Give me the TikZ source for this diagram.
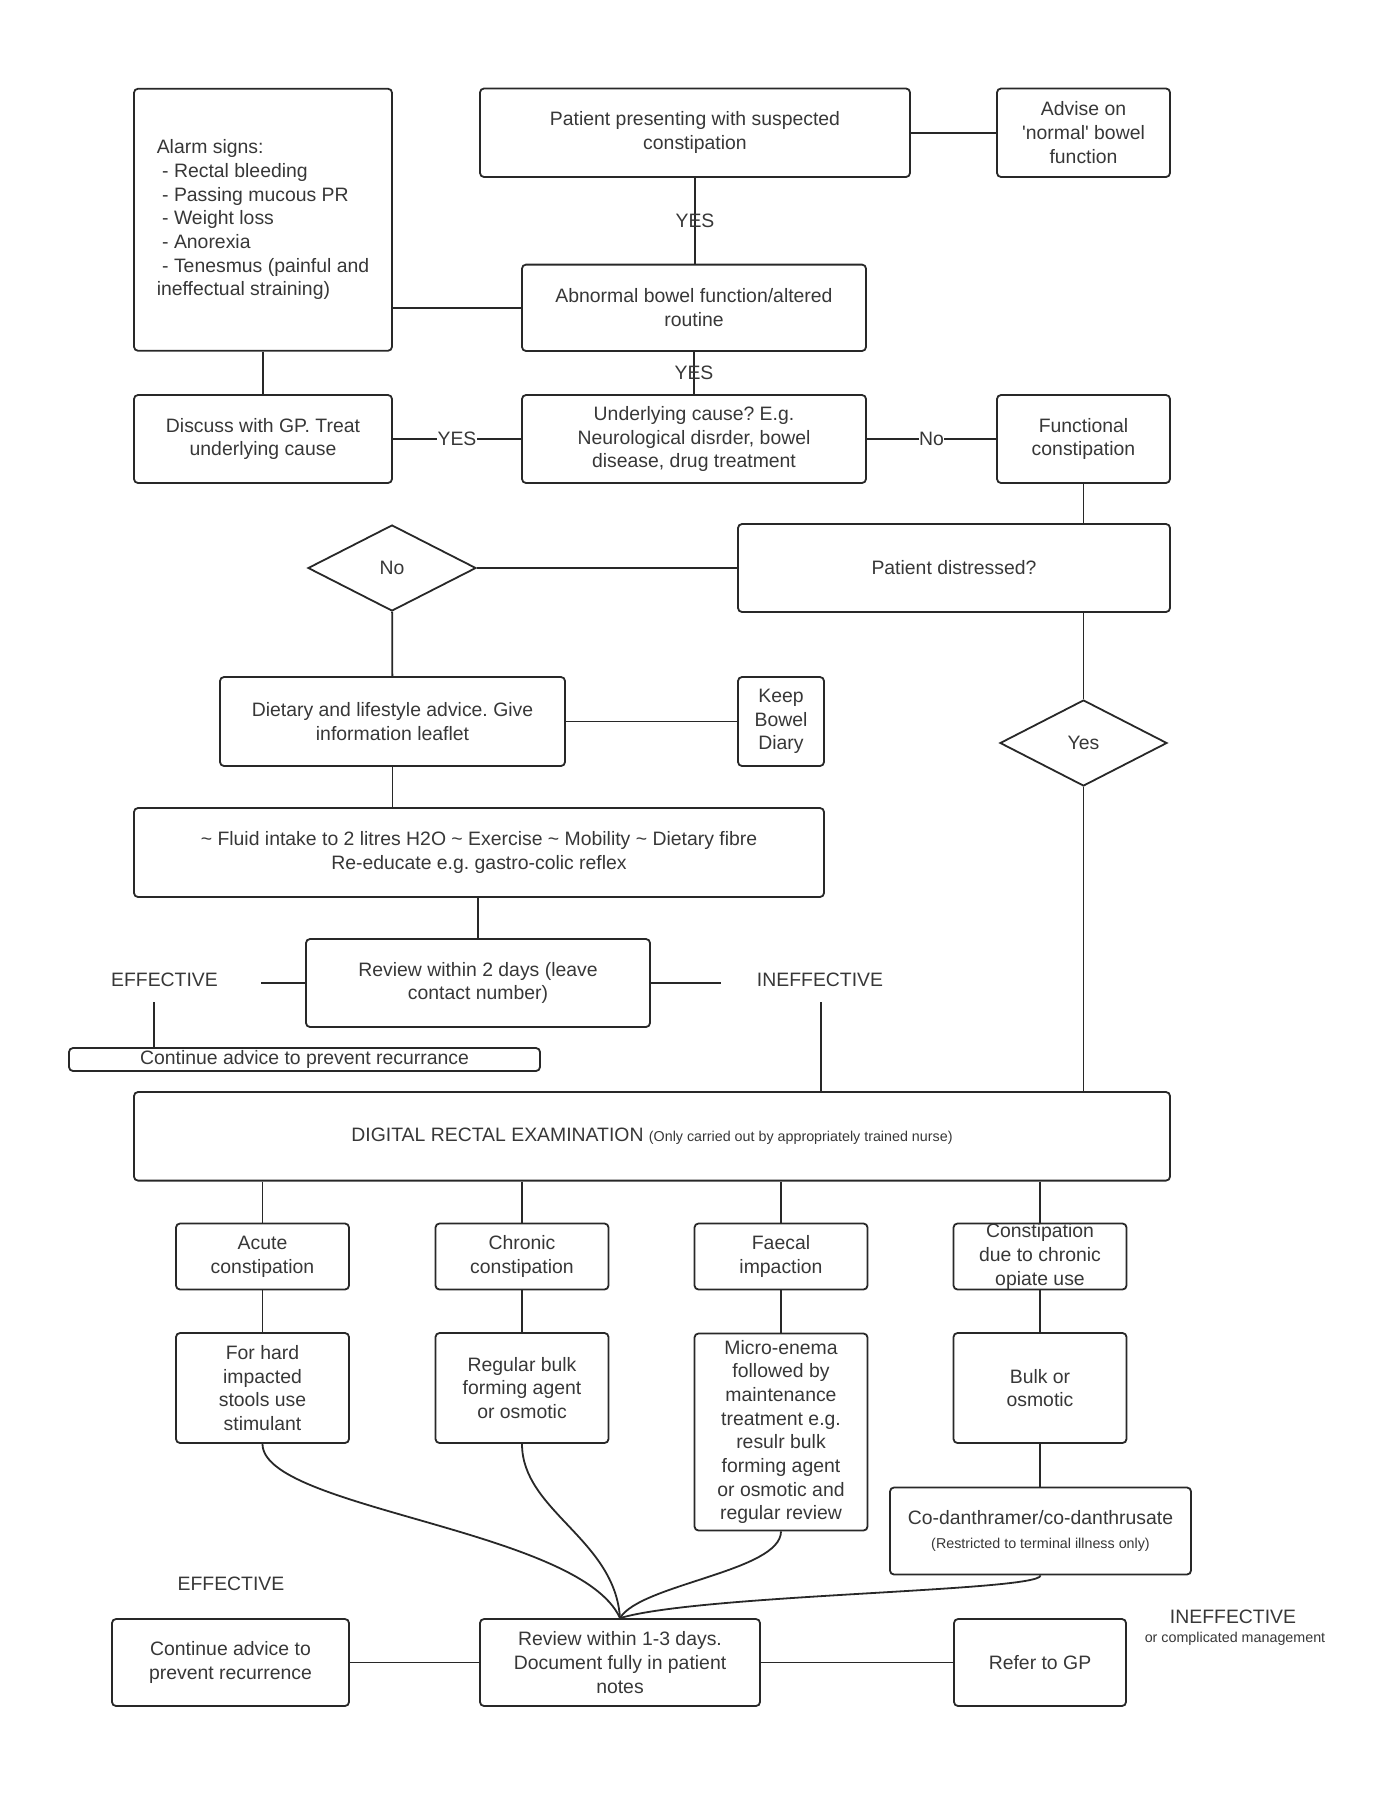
\documentclass[tikz,border=0pt]{standalone}
\usepackage{fontspec}
\setmainfont{Liberation Sans}
\usetikzlibrary{shapes.geometric}
\definecolor{inkgray}{RGB}{40,40,40}
\definecolor{txtgray}{RGB}{55,55,55}
\newcommand{\normsize}{\fontsize{19.4}{23.7}\selectfont}
\newcommand{\notesize}{\fontsize{14.3}{17}\selectfont}
\frenchspacing

\begin{document}
\begin{tikzpicture}[x=1pt, y=-1pt,
    box/.style={draw=inkgray, line width=1.8pt, rounded corners=4pt, align=center, inner sep=0pt, text=txtgray, font=\normsize},
    decision/.style={draw=inkgray, diamond, line width=1.8pt, inner sep=0pt, text=txtgray, font=\normsize},
    wire/.style={draw=inkgray, line width=1.8pt},
    tag/.style={text=txtgray, font=\normsize, inner sep=0.5pt}]
    \useasboundingbox (0,0) rectangle (1375,1807);

    % Presentation, alarm signs and underlying cause.
    \node[box, align=left, minimum width=258pt, minimum height=262pt] (alarm) at (263,219.75)
        {Alarm signs:\\ \hspace*{5.4pt}- Rectal bleeding\\ \hspace*{5.4pt}- Passing mucous PR\\ \hspace*{5.4pt}- Weight loss\\ \hspace*{5.4pt}- Anorexia\\ \hspace*{5.4pt}- Tenesmus (painful and\\ineffectual straining)};
    \node[box, minimum width=430pt, minimum height=88.5pt] (present) at (695,132.75) {Patient presenting with suspected\\constipation};
    \node[box, minimum width=173pt, minimum height=88.5pt] (advise) at (1083.5,132.75) {Advise on\\\textquotesingle normal\textquotesingle{} bowel\\function};
    \node[box, minimum width=344pt, minimum height=86.4pt] (abnormal) at (694,307.8) {Abnormal bowel function/altered\\routine};
    \node[box, minimum width=344pt, minimum height=88pt] (cause) at (694,439) {Underlying cause? E.g.\\Neurological disrder, bowel\\disease, drug treatment};
    \node[box, minimum width=258pt, minimum height=88pt] (discuss) at (263,439) {Discuss with GP. Treat\\underlying cause};
    \node[box, minimum width=173pt, minimum height=88pt] (functional) at (1083.5,439) {Functional\\constipation};

    \draw[wire] (present.south) -- node[tag] {YES} (present.south |- abnormal.north);
    \draw[wire] (present) -- (advise);
    \draw[wire] (alarm.east |- abnormal.west) -- (abnormal.west);
    \draw[wire] (alarm) -- (discuss);
    \draw[wire] (abnormal.south) -- node[tag] {YES} (abnormal.south |- cause.north);
    \draw[wire] (discuss) -- node[tag, fill=white] {YES} (cause);
    \draw[wire] (cause) -- node[tag, fill=white] {No} (functional);

    % Distress and first-line advice.
    \node[box, minimum width=432pt, minimum height=88pt] (distressed) at (954,568) {Patient distressed?};
    \node[decision, minimum width=168pt, minimum height=86pt] (nodec) at (392,568) {No};
    \node[decision, minimum width=167pt, minimum height=86pt] (yesdec) at (1083.5,743) {Yes};
    \node[box, minimum width=345pt, minimum height=89pt] (diet) at (392.5,721.5) {Dietary and lifestyle advice. Give\\information leaflet};
    \node[box, minimum width=86pt, minimum height=89pt] (diary) at (781,721.5) {Keep\\Bowel\\Diary};
    \node[box, minimum width=690pt, minimum height=89pt] (fluid) at (479,852.5)
        {\textasciitilde{} Fluid intake to 2 litres H2O \textasciitilde{} Exercise \textasciitilde{} Mobility \textasciitilde{} Dietary fibre\\Re-educate e.g. gastro-colic reflex};
    \node[box, minimum width=344pt, minimum height=88pt] (review2) at (478,983) {Review within 2 days (leave\\contact number)};
    \node[tag] (eff1) at (164.5,980) {EFFECTIVE};
    \node[tag] (ineff1) at (820,980) {INEFFECTIVE};
    \node[box, minimum width=471pt, minimum height=23pt] (advice1) at (304.5,1059.5) {Continue advice to prevent recurrance};

    \coordinate (effend) at (261,983);
    \coordinate (ineffend) at (721,983);
    \coordinate (effdrop) at (154,1002);
    \coordinate (ineffdrop) at (821,1002);
    \draw[wire] (functional.south) -- (functional.south |- distressed.north);
    \draw[wire] (nodec) -- (distressed);
    \draw[wire] (yesdec.north |- distressed.south) -- (yesdec.north);
    \draw[wire] (nodec) -- (diet);
    \draw[wire] (diet) -- (diary);
    \draw[wire] (diet.south) -- (diet.south |- fluid.north);
    \draw[wire] (review2.north |- fluid.south) -- (review2.north);
    \draw[wire] (review2.west) -- (effend);
    \draw[wire] (review2.east) -- (ineffend);
    \draw[wire] (effdrop) -- (effdrop |- advice1.north);

    % Examination and treatment.
    \node[box, minimum width=1036pt, minimum height=88.6pt] (dre) at (652,1136.3)
        {DIGITAL RECTAL EXAMINATION {\notesize (Only carried out by appropriately trained nurse)}};
    \node[box, minimum width=173pt, minimum height=66pt] (acute) at (262.5,1256.5) {Acute\\constipation};
    \node[box, minimum width=173pt, minimum height=66pt] (chronic) at (522,1256.5) {Chronic\\constipation};
    \node[box, minimum width=173pt, minimum height=66pt] (faecal) at (781,1256.5) {Faecal\\impaction};
    \node[box, minimum width=173pt, minimum height=66pt] (opiate) at (1040,1256.5) {Constipation\\due to chronic\\opiate use};
    \node[box, minimum width=173pt, minimum height=110pt] (stimulant) at (262.5,1388) {For hard\\impacted\\stools use\\stimulant};
    \node[box, minimum width=173pt, minimum height=110pt] (bulkreg) at (522,1388) {Regular bulk\\forming agent\\or osmotic};
    \node[box, minimum width=173pt, minimum height=197pt] (enema) at (781,1432)
        {Micro-enema\\followed by\\maintenance\\treatment e.g.\\resulr bulk\\forming agent\\or osmotic and\\regular review};
    \node[box, minimum width=173pt, minimum height=110pt] (bulkosm) at (1040,1388) {Bulk or\\osmotic};
    \node[box, minimum width=301pt, minimum height=87pt] (codan) at (1040.5,1531)
        {Co-danthramer/co-danthrusate\\{\notesize (Restricted to terminal illness only)}};

    \draw[wire] (ineffdrop) -- (ineffdrop |- dre.north);
    \draw[wire] (yesdec.south) -- (yesdec.south |- dre.north);
    \draw[wire] (acute.north |- dre.south) -- (acute.north);
    \draw[wire] (chronic.north |- dre.south) -- (chronic.north);
    \draw[wire] (faecal.north |- dre.south) -- (faecal.north);
    \draw[wire] (opiate.north |- dre.south) -- (opiate.north);
    \draw[wire] (acute) -- (stimulant);
    \draw[wire] (chronic) -- (bulkreg);
    \draw[wire] (faecal) -- (enema);
    \draw[wire] (opiate) -- (bulkosm);
    \draw[wire] (bulkosm.south) -- (bulkosm.south |- codan.north);

    % Review and outcome.
    \node[box, minimum width=280pt, minimum height=87pt] (review3) at (620,1662.5) {Review within 1-3 days.\\Document fully in patient\\notes};
    \node[box, minimum width=237pt, minimum height=87pt] (advice2) at (230.5,1662.5) {Continue advice to\\prevent recurrence};
    \node[box, minimum width=172pt, minimum height=87pt] (gp) at (1040,1662.5) {Refer to GP};
    \node[tag] (eff2) at (231,1584) {EFFECTIVE};
    \node[tag] (ineff2) at (1233,1617) {INEFFECTIVE};
    \node[tag, font=\notesize] (ineff2note) at (1235,1639) {or complicated management};

    \draw[wire] (stimulant.south) .. controls +(0,65) and +(-40,-89) .. (review3.north);
    \draw[wire] (bulkreg.south) .. controls +(0,67) and +(-5,-79) .. (review3.north);
    \draw[wire] (enema.south) .. controls +(0,40) and +(20,-34) .. (review3.north);
    \draw[wire] (codan.south) .. controls +(0,16) and +(80,-24) .. (review3.north);
    \draw[wire] (advice2) -- (review3);
    \draw[wire] (review3) -- (gp);
\end{tikzpicture}
\end{document}
